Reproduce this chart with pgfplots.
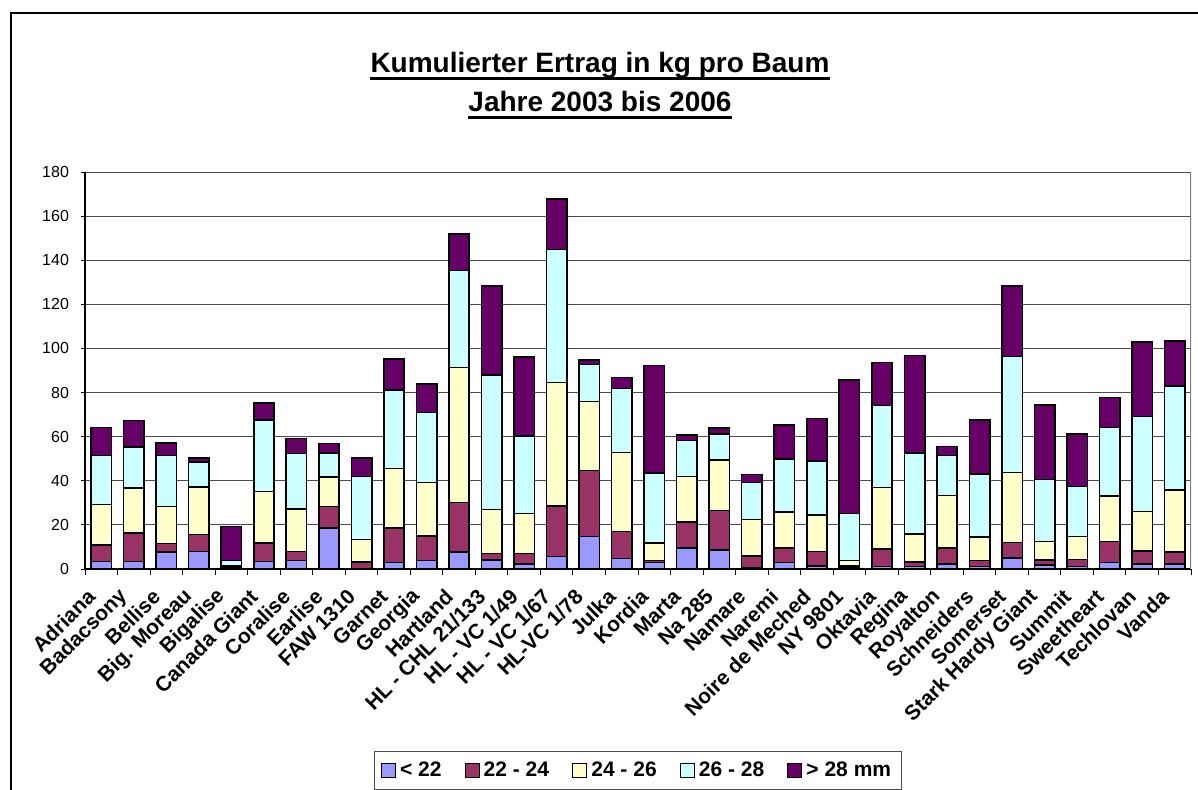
\documentclass[border=0pt]{standalone}
\usepackage{pgfplots}
\pgfplotsset{compat=1.18}
\usepackage{pgfplotstable}
\usepackage{fontspec}
\setmainfont{Liberation Sans}
\definecolor{cA}{HTML}{9999FF}
\definecolor{cB}{HTML}{993366}
\definecolor{cC}{HTML}{FFFFCC}
\definecolor{cD}{HTML}{CCFFFF}
\definecolor{cE}{HTML}{660066}
\pgfplotstableread{
x a b c d e
0 3.5 7.5 18.2 22.3 12.7
1 3.5 12.8 20.3 18.7 12.1
2 7.6 3.9 16.9 23.1 5.6
3 8.0 7.6 21.7 11.2 1.8
4 0.5 0.3 0.5 2.6 15.4
5 3.5 8.3 23.3 32.6 7.6
6 3.8 4.2 19.2 25.1 6.9
7 18.6 9.8 13.2 11.0 4.4
8 0.0 3.2 10.1 28.7 8.3
9 3.0 15.7 26.8 35.8 13.9
10 3.8 11.3 24.2 31.7 13.0
11 7.6 22.6 61.2 44.0 16.6
12 4.2 2.8 19.9 61.2 40.1
13 2.4 4.6 18.1 35.3 35.6
14 5.7 23.0 55.9 60.2 23.1
15 14.8 29.8 31.4 16.8 2.1
16 4.8 12.3 35.8 29.0 5.0
17 3.0 0.9 7.9 31.7 48.8
18 9.5 11.7 20.8 16.2 2.7
19 8.5 18.1 22.7 11.9 2.7
20 0.6 5.4 16.4 16.9 3.5
21 3.0 6.5 16.3 24.2 15.4
22 1.5 6.4 16.6 24.6 19.1
23 1.0 0.5 2.3 21.3 60.6
24 1.2 8.0 27.8 37.1 19.6
25 1.2 2.1 12.7 36.6 44.3
26 2.4 7.1 23.9 18.0 4.2
27 1.2 2.7 10.5 28.8 24.4
28 5.0 7.1 31.7 52.6 31.8
29 1.8 2.3 8.4 28.0 33.9
30 1.1 3.3 10.3 22.8 23.6
31 3.0 9.5 20.7 31.0 13.5
32 2.4 5.9 17.8 43.1 33.6
33 2.4 5.2 28.1 47.4 20.4
}\data
\pgfplotsset{mylegend/.style={legend image code/.code={\draw[##1, line width=0.6pt] (0pt,-3.5pt) rectangle (7pt,3.5pt);}}}
\begin{document}
\begin{tikzpicture}
\path[use as bounding box] (0pt,0pt) rectangle (599pt,-394.5pt);
\draw[line width=1pt] (5.5pt,-420pt) -- (5.5pt,-6.5pt) -- (620pt,-6.5pt);
\node[inner sep=0pt, anchor=base, font=\bfseries\fontsize{14}{16}\selectfont] (t1) at (300pt,-36pt) {Kumulierter Ertrag in kg pro Baum};
\draw[line width=1.4pt] ([yshift=-3.2pt]t1.base west) -- ([yshift=-3.2pt]t1.base east);
\node[inner sep=0pt, anchor=base, font=\bfseries\fontsize{14}{16}\selectfont] (t2) at (300pt,-55.5pt) {Jahre 2003 bis 2006};
\draw[line width=1.4pt] ([yshift=-3.2pt]t2.base west) -- ([yshift=-3.2pt]t2.base east);
\begin{axis}[
  at={(42.5pt,-284.5pt)}, anchor=south west,
  width=553pt, height=198.5pt, scale only axis,
  xmin=-0.5, xmax=33.5, ymin=0, ymax=180,
  ytick={0,20,...,180},
  axis lines=left, axis line style={-, black, line width=0.6pt},
  ybar stacked, bar width=10.2pt,
  ymajorgrids, major grid style={black!70, line width=0.5pt},
  xtick={-0.3,0.7,...,32.8},
  xticklabels={Adriana,Badacsony,Bellise,Big. Moreau,Bigalise,Canada Giant,Coralise,Earlise,FAW 1310,Garnet,Georgia,Hartland,HL - CHL 21/133,HL - VC 1/49,HL - VC 1/67,HL-VC 1/78,Julka,Kordia,Marta,Na 285,Namare,Naremi,Noire de Meched,NY 9801,Oktavia,Regina,Royalton,Schneiders,Somerset,Stark Hardy Giant,Summit,Sweetheart,Techlovan,Vanda},
  minor xtick={-0.5,0.5,...,33.5},
  tick align=outside,
  major x tick style={draw=none},
  minor tick length=2.8pt, major tick length=2pt,
  tick style={black, line width=0.5pt},
  xticklabel shift=10pt,
  yticklabel shift=2.5pt,
  xticklabel style={rotate=45, anchor=east, inner sep=0pt, font=\bfseries\fontsize{10.5}{12}\selectfont},
  yticklabel style={font=\fontsize{8}{10}\selectfont},
  /pgf/number format/assume math mode=true,
  legend columns=5,
  legend style={at={(0.5,-0.4585)}, anchor=north, draw=black!70, line width=0.5pt,
    font=\bfseries\fontsize{10.5}{12}\selectfont,
    /tikz/every even column/.append style={column sep=9.5pt},
    inner xsep=3pt, inner ysep=3pt},
]
\addplot[fill=cA, draw=black, line width=0.8pt, mylegend] table[x=x,y=a]{\data};
\addplot[fill=cB, draw=black, line width=0.8pt, mylegend] table[x=x,y=b]{\data};
\addplot[fill=cC, draw=black, line width=0.8pt, mylegend] table[x=x,y=c]{\data};
\addplot[fill=cD, draw=black, line width=0.8pt, mylegend] table[x=x,y=d]{\data};
\addplot[fill=cE, draw=black, line width=0.8pt, mylegend] table[x=x,y=e]{\data};
\legend{< 22,22 - 24,24 - 26,26 - 28,> 28 mm}
\draw[black!50, line width=0.6pt] (rel axis cs:1,0) -- (rel axis cs:1,1);
\end{axis}
\end{tikzpicture}
\end{document}
